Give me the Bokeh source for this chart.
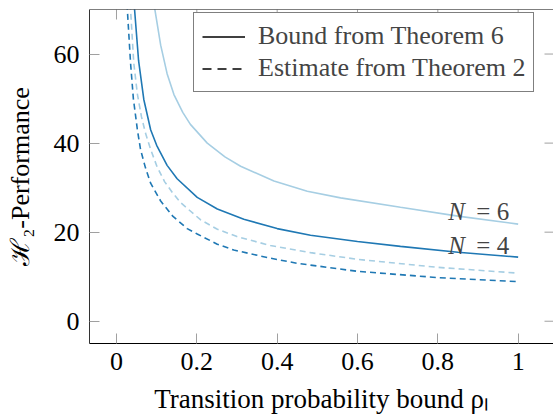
import math
from bokeh.plotting import figure
from bokeh.models import Range1d, FixedTicker, Legend, LegendItem, Label, Span
from bokeh.embed import file_html
from bokeh.resources import INLINE

# ---- data ----
x_n4_bound = [0.040, 0.045, 0.055, 0.068, 0.085, 0.100, 0.126, 0.151, 0.201, 0.251, 0.317, 0.400, 0.483, 0.600, 0.707, 0.850, 1.000]
y_n4_bound = [77.0, 70.0, 58.5, 49.8, 43.0, 39.5, 35.0, 32.0, 27.8, 25.2, 22.9, 20.8, 19.3, 17.9, 16.8, 15.5, 14.4]

x_n6_bound = [0.088, 0.095, 0.110, 0.126, 0.143, 0.165, 0.184, 0.226, 0.270, 0.309, 0.392, 0.475, 0.558, 0.707, 0.850, 1.000]
y_n6_bound = [76.0, 70.3, 62.0, 55.6, 50.9, 46.9, 44.2, 40.0, 36.9, 34.8, 31.5, 29.2, 27.7, 25.6, 23.6, 21.8]

x_n4_est = [0.024, 0.027, 0.035, 0.042, 0.052, 0.060, 0.072, 0.085, 0.110, 0.140, 0.176, 0.201, 0.251, 0.292, 0.375, 0.450, 0.600, 0.800, 1.000]
y_n4_est = [78.0, 70.0, 58.0, 50.0, 43.0, 38.5, 34.5, 31.0, 27.0, 23.6, 20.8, 19.6, 17.3, 16.0, 14.3, 13.0, 11.2, 9.8, 8.9]

x_n6_est = [0.031, 0.035, 0.043, 0.052, 0.062, 0.072, 0.085, 0.101, 0.120, 0.140, 0.160, 0.209, 0.250, 0.300, 0.383, 0.483, 0.600, 0.800, 1.000]
y_n6_est = [78.0, 70.0, 58.0, 51.0, 46.0, 42.3, 38.6, 34.7, 31.3, 28.8, 26.6, 22.8, 20.7, 19.0, 17.0, 15.4, 13.9, 12.1, 10.8]

x_ticks = [0, 0.2, 0.4, 0.6, 0.8, 1]
x_tick_labels = ["0", "0.2", "0.4", "0.6", "0.8", "1"]
y_ticks = [0, 20, 40, 60]
y_tick_labels = ["0", "20", "40", "60"]

legend_labels = ["Bound from Theorem 6", "Estimate from Theorem 2"]
curve_labels = ["6", "4"]
x_title = "Transition probability bound ρₗ"
y_title = "ℋ₂-Performance"

DARK = "#1f78b4"
LIGHT = "#a6cee3"
SERIF = "Liberation Serif"
FS = "26px"
TICK = "#a0a0a0"

X0, X1 = -0.0672, 1.088
Y0, Y1 = -5, 70

p = figure(width=553, height=416, output_backend="svg", toolbar_location=None,
           x_range=Range1d(X0, X1), y_range=Range1d(Y0, Y1),
           min_border_left=89, min_border_right=0, min_border_top=9, min_border_bottom=73)
p.outline_line_color = None
p.xgrid.visible = False
p.ygrid.visible = False

def style_axis(ax):
    ax.major_tick_in = 10
    ax.major_tick_out = 0
    ax.minor_tick_line_color = None
    ax.major_tick_line_color = TICK
    ax.major_tick_line_width = 1
    ax.axis_line_color = "black"
    ax.axis_line_width = 1
    ax.major_label_text_font = SERIF
    ax.major_label_text_font_size = FS
    ax.major_label_text_color = "black"
    ax.axis_label_text_font = SERIF
    ax.axis_label_text_font_size = FS
    ax.axis_label_text_font_style = "normal"
    ax.axis_label_text_color = "black"

xa = p.xaxis[0]
xa.ticker = FixedTicker(ticks=x_ticks)
xa.major_label_overrides = {t: l for t, l in zip(x_ticks, x_tick_labels)}
style_axis(xa)
xa.major_label_standoff = 9
xa.axis_label = x_title
xa.axis_label_text_font_size = "27px"
xa.axis_label_standoff = 11

ya = p.yaxis[0]
ya.ticker = FixedTicker(ticks=y_ticks)
ya.major_label_overrides = {t: l for t, l in zip(y_ticks, y_tick_labels)}
style_axis(ya)
ya.axis_line_color = "#333333"
ya.major_label_standoff = 10
ya.axis_label = y_title
ya.axis_label_standoff = 16

# top frame line and inward ticks on top / right
p.add_layout(Span(location=Y1, dimension="width", line_color="black", line_width=1))
p.ray(x=x_ticks, y=[Y1] * len(x_ticks), length=10, length_units="screen",
      angle=-math.pi / 2, line_color=TICK, line_width=1)
p.ray(x=[X1] * len(y_ticks), y=y_ticks, length=9, length_units="screen",
      angle=math.pi, line_color=TICK, line_width=1)

LW = 1.6
DASH = "6 4"
p.line(x_n6_bound, y_n6_bound, color=LIGHT, line_width=LW)
p.line(x_n4_bound, y_n4_bound, color=DARK, line_width=LW)
p.line(x_n6_est, y_n6_est, color=LIGHT, line_width=LW, line_dash=DASH)
p.line(x_n4_est, y_n4_est, color=DARK, line_width=LW, line_dash=DASH)

# legend proxies (black, no visible data)
nan = float("nan")
r_solid = p.line([nan], [nan], color="black", line_width=LW)
r_dash = p.line([nan], [nan], color="black", line_width=LW, line_dash="9 6")
legend = Legend(items=[LegendItem(label=legend_labels[0], renderers=[r_solid]),
                       LegendItem(label=legend_labels[1], renderers=[r_dash])],
                location=(104, 251), margin=0, padding=8, spacing=2,
                glyph_width=43, glyph_height=29, label_height=29, label_standoff=13,
                label_text_font=SERIF, label_text_font_size=FS,
                border_line_color="black", border_line_width=1,
                background_fill_alpha=1.0)
p.add_layout(legend, "center")

# curve labels
for yv, txt, yo in [(y_n6_bound[-1], curve_labels[0], 13), (y_n4_bound[-1], curve_labels[1], 12)]:
    p.add_layout(Label(x=x_ticks[-1], y=yv, x_offset=-70, y_offset=yo, text="N",
                       text_font=SERIF, text_font_style="italic", text_font_size="25px",
                       text_align="left", text_baseline="alphabetic"))
    p.add_layout(Label(x=x_ticks[-1], y=yv, x_offset=-9, y_offset=yo, text="= " + txt,
                       text_font=SERIF, text_font_size="25px",
                       text_align="right", text_baseline="alphabetic"))

open("out.html", "w").write(file_html(p, INLINE))
